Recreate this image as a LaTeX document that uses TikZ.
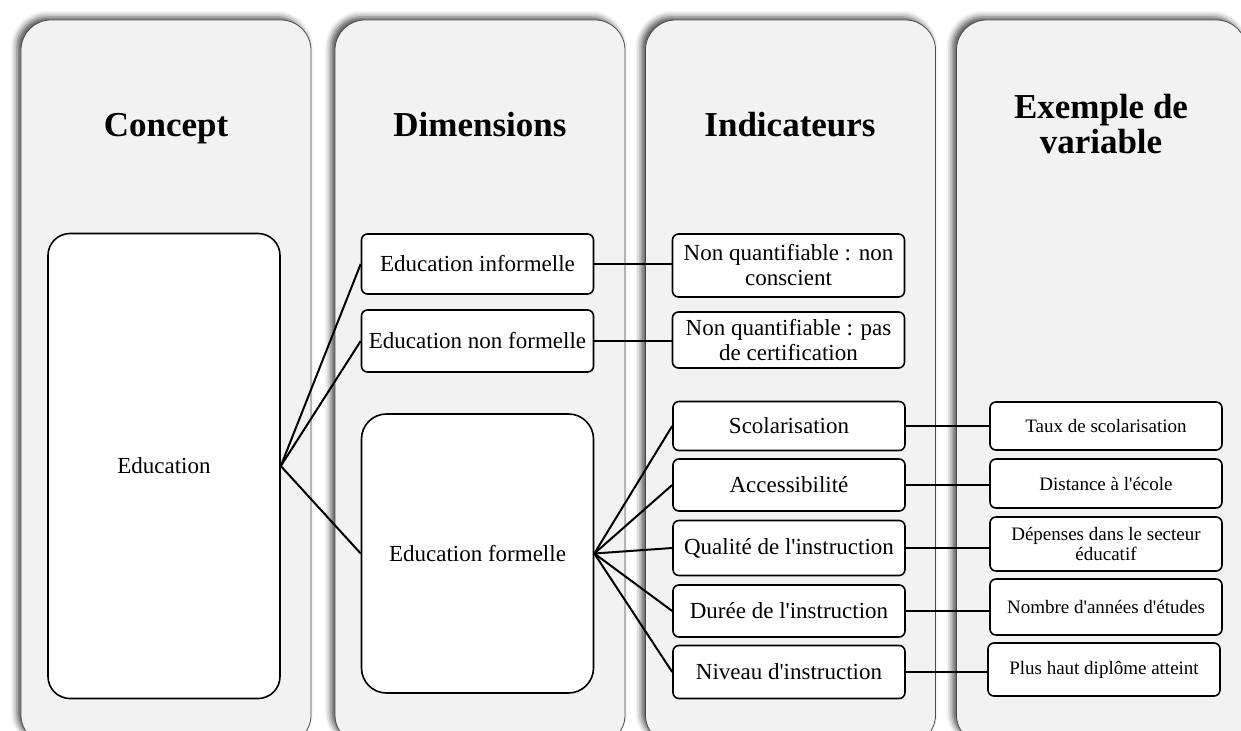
\documentclass[tikz,border=0pt]{standalone}
\usepackage{fontspec}
\setmainfont{Liberation Serif}[Ligatures=TeXOff]
\usetikzlibrary{shadows.blur}

\tikzset{
	colbox/.style={draw=black!70, line width=0.8bp, fill=black!5, rounded corners=30bp,
		minimum width=290bp, minimum height=725bp,
		blur shadow={shadow xshift=-4bp, shadow yshift=3bp, shadow blur radius=6bp, shadow opacity=70}},
	head/.style={font=\bfseries\fontsize{35bp}{35bp}\selectfont, align=center},
	item/.style={draw, line width=1.6bp, fill=white, rounded corners=6bp, inner sep=1bp,
		minimum width=232bp, align=center, font=\fontsize{23bp}{25bp}\selectfont},
	var/.style={item, font=\fontsize{19bp}{20bp}\selectfont},
	link/.style={draw, line width=2bp},
}

\begin{document}
\begin{tikzpicture}[x=1bp, y=-1bp]
		\useasboundingbox (0,0) rectangle (1241,731);
		\clip (0,0) rectangle (1241,731);
		%
		\node[colbox] (colC) at (166,382.5) {};
		\node[colbox] (colD) at (480,382.5) {};
		\node[colbox] (colI) at (790.5,382.5) {};
		\node[colbox] (colV) at (1101.5,382.5) {};
		%
		\node[head, anchor=base] (hC) at (166,137) {Concept};
		\node[head, anchor=base] (hD) at (480,137) {Dimensions};
		\node[head, anchor=base] (hI) at (790,137) {Indicateurs};
		\node[head] (hV) at (1101,124) {Exemple de\\variable};
		%
		\node[item, rounded corners=22bp, minimum height=465bp] (edu) at (164,466) {Education};
		%
		\node[item, minimum height=60bp] (dInf) at (477.5,264) {Education informelle};
		\node[item, minimum height=62bp] (dNon) at (477.5,341) {Education non formelle};
		\node[item, rounded corners=25bp, minimum height=279bp] (dFor) at (477.5,553.5) {Education formelle};
		%
		\node[item, minimum height=63bp] (iInf) at (788.5,265.5) {Non quantifiable : non\\conscient};
		\node[item, minimum height=56bp] (iNon) at (788.5,340) {Non quantifiable : pas\\de certification};
		\node[item, minimum height=49bp] (iSco) at (789,426) {Scolarisation};
		\node[item, minimum height=52bp] (iAcc) at (789,485) {Accessibilit\'e};
		\node[item, minimum height=55bp] (iQua) at (789,548) {Qualit\'e de l'instruction};
		\node[item, minimum height=52bp] (iDur) at (789,611) {Dur\'ee de l'instruction};
		\node[item, minimum height=53bp] (iNiv) at (789,672) {Niveau d'instruction};
		%
		\node[var, minimum height=48bp] (vSco) at (1106,426) {Taux de scolarisation};
		\node[var, minimum height=49bp] (vAcc) at (1106,483.5) {Distance \`a l'\'ecole};
		\node[var, minimum height=54bp] (vQua) at (1106,544) {D\'epenses dans le secteur\\\'educatif};
		\node[var, minimum height=56bp] (vDur) at (1106,607) {Nombre d'ann\'ees d'\'etudes};
		\node[var, minimum height=53bp] (vNiv) at (1104,669.5) {Plus haut dipl\^ome  atteint};
		%
		\path[every edge/.style=link]
		(edu.east) edge (dInf.west)
		(edu.east) edge (dNon.west)
		(edu.east) edge (dFor.west)
		(dInf.east) edge (dInf.east -| iInf.west)
		(dNon.east) edge (dNon.east -| iNon.west)
		(dFor.east) edge (iSco.west)
		(dFor.east) edge (iAcc.west)
		(dFor.east) edge (iQua.west)
		(dFor.east) edge (iDur.west)
		(dFor.east) edge (iNiv.west)
		(iSco.east) edge (iSco.east -| vSco.west)
		(iAcc.east) edge (iAcc.east -| vAcc.west)
		(iQua.east) edge (iQua.east -| vQua.west)
		(iDur.east) edge (iDur.east -| vDur.west)
		(iNiv.east) edge (iNiv.east -| vNiv.west);
\end{tikzpicture}
\end{document}
